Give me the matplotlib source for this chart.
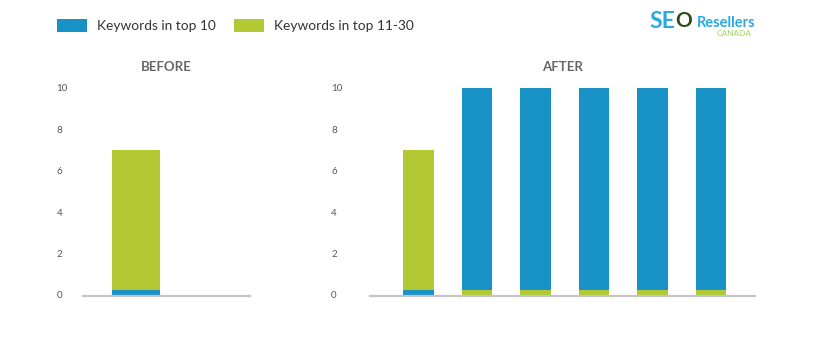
import matplotlib
matplotlib.use("Agg")
import matplotlib.pyplot as plt
from matplotlib.patches import Patch
import numpy as np

plt.rcParams['font.family'] = ['Lato', 'DejaVu Sans']

# ---- data ----
series_names = ["Keywords in top 10", "Keywords in top 11-30"]
before_categories = ["Before"]
before_top10 = [0.25]
before_top11_30 = [6.75]
after_categories = ["A1", "A2", "A3", "A4", "A5", "A6"]
after_top10 = [0.25, 9.75, 9.75, 9.75, 9.75, 9.75]
after_top11_30 = [6.75, 0.25, 0.25, 0.25, 0.25, 0.25]
yticks = [0, 2, 4, 6, 8, 10]

BLUE = "#1791C6"
GREEN = "#B2C934"
GREY = "#C4C4C4"

fig = plt.figure(figsize=(8.13, 3.53), dpi=100)

def draw_panel(ax, cats, top10, top11, width, xlim, title, pad_pt):
    x = np.arange(len(cats))
    for i in range(len(cats)):
        b, g = top10[i], top11[i]
        if b >= g:
            ax.bar(x[i], g, width, color=GREEN, linewidth=0)
            ax.bar(x[i], b, width, bottom=g, color=BLUE, linewidth=0)
        else:
            ax.bar(x[i], b, width, color=BLUE, linewidth=0)
            ax.bar(x[i], g, width, bottom=b, color=GREEN, linewidth=0)
    ax.set_xlim(*xlim)
    ax.set_ylim(0, 10)
    ax.set_yticks(yticks)
    ax.set_yticklabels([str(t) for t in yticks], ha='left', fontsize=7, color="#555555")
    ax.tick_params(axis='y', length=0, pad=pad_pt)
    ax.set_xticks([])
    for s in ['top', 'right', 'left']:
        ax.spines[s].set_visible(False)
    ax.spines['bottom'].set_color(GREY)
    ax.spines['bottom'].set_linewidth(1.6)
    ax.spines['bottom'].set_position(('outward', 1))
    ax.set_title(title, fontsize=9.5, fontweight='bold', color="#666666", pad=12)

W, H = 813, 353
ax1 = fig.add_axes([83 / W, 1 - 295 / H, (250 - 83) / W, (295 - 88) / H])
draw_panel(ax1, before_categories, before_top10, before_top11_30, 0.8, (-0.883, 1.9), "BEFORE", 19)

ax2 = fig.add_axes([370 / W, 1 - 295 / H, (755 - 370) / W, (295 - 88) / H])
draw_panel(ax2, after_categories, after_top10, after_top11_30, 0.513, (-0.829, 5.752), "AFTER", 28)

handles = [Patch(facecolor=BLUE, edgecolor='none'), Patch(facecolor=GREEN, edgecolor='none')]
fig.legend(handles, series_names, loc='upper left', bbox_to_anchor=(57 / W, 1 - 19 / H),
           ncol=2, frameon=False, fontsize=9.9, handlelength=2.18, handleheight=1.1,
           handletextpad=0.7, columnspacing=1.35, borderpad=0, borderaxespad=0,
           labelcolor="#333333")

# logo
fig.text(649 / W, 1 - 21 / H, "SE", fontsize=16.5, fontweight='bold', color="#2AA9E0", va='center', ha='left')
fig.text(675 / W, 1 - 21 / H, "O", fontsize=15, fontweight='bold', color="#2E4A1A", va='center', ha='left')
fig.text(697 / W, 1 - 23 / H, "Resellers", fontsize=10.5, fontweight='bold', color="#2AA9E0", va='center', ha='left')
fig.text(752 / W, 1 - 34 / H, "CANADA", fontsize=6, color="#A8D26A", va='center', ha='right')

fig.savefig("out.png", dpi=100)
